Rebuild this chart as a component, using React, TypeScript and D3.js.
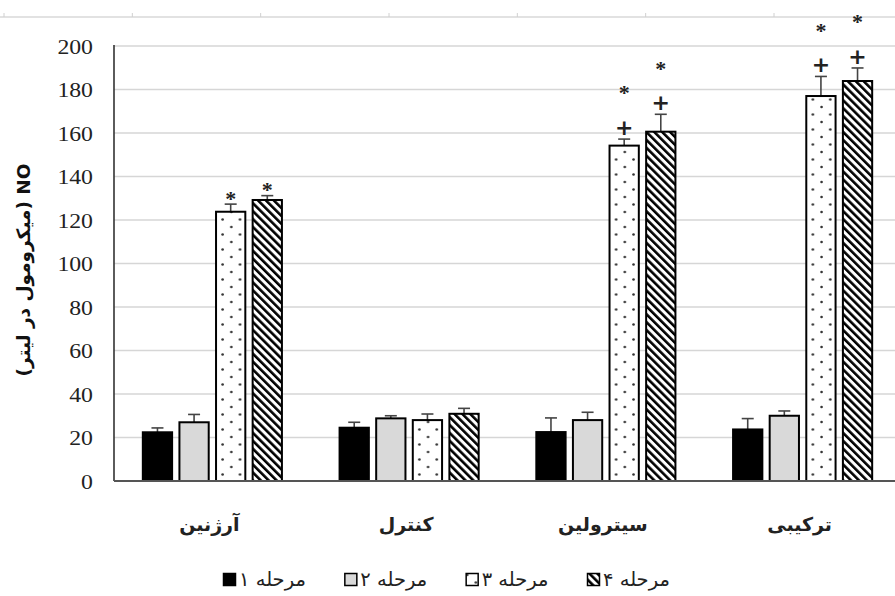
import React from 'react';
import * as d3 from 'd3';

const categories = ['آرژنین', 'کنترل', 'سیترولین', 'ترکیبی'];
const seriesNames = ['مرحله ۱', 'مرحله ۲', 'مرحله ۳', 'مرحله ۴'];
const stage1 = [22.4, 24.5, 22.5, 23.7];
const stage2 = [27, 28.8, 28, 30];
const stage3 = [123.8, 28, 154.2, 177];
const stage4 = [129.2, 30.9, 160.6, 183.9];
const err1 = [2, 2.5, 6.5, 5];
const err2 = [3.6, 1.2, 3.6, 2.2];
const err3 = [3.5, 2.8, 3, 9];
const err4 = [2, 2.5, 8, 6];
const plus3 = [false, false, true, true];
const plus4 = [false, false, true, true];
const star3 = [true, false, true, true];
const star4 = [true, false, true, true];
const yTicks = [0, 20, 40, 60, 80, 100, 120, 140, 160, 180, 200];

const values = [stage1, stage2, stage3, stage4];
const errors = [err1, err2, err3, err4];
const pluses = [null, null, plus3, plus4];
const stars = [null, null, star3, star4];
const fills = ['#000000', '#d9d9d9', 'url(#dots)', 'url(#hatch)'];

const W = 895;
const H = 596;
const left = 114;
const right = 901;
const top = 46;
const bottom = 481;

const AR = '"DejaVu Sans", "Noto Sans", sans-serif';
const SERIF = '"Liberation Serif", serif';

export default function App() {
  const x0 = d3.scaleBand<string>().domain(categories).range([left, right]).paddingInner(0.293).paddingOuter(0.1465);
  const x1 = d3.scaleBand<number>().domain([0, 1, 2, 3]).range([0, x0.bandwidth()]).paddingInner(0.2);
  const y = d3.scaleLinear().domain([0, 200]).range([bottom, top]);
  const legendX = d3.scaleLinear().domain([0, 3]).range([223, 587]);
  const topTickX = d3.scaleLinear().domain([0, 6]).range([4, 774]);

  return (
    <svg width={W} height={H} style={{ position: 'absolute', left: 0, top: 0, background: '#fff' }}>
      <defs>
        <pattern id="dots" width={17.4} height={15} patternUnits="userSpaceOnUse">
          <rect width={17.4} height={15} fill="#fff" />
          <circle cx={1.5} cy={2} r={1.3} fill="#333" />
          <circle cx={10.2} cy={9.5} r={1.3} fill="#333" />
        </pattern>
        <pattern id="hatch" width={5.6} height={5.6} patternUnits="userSpaceOnUse" patternTransform="rotate(-45)">
          <rect width={5.6} height={5.6} fill="#fff" />
          <rect width={2.6} height={5.6} fill="#000" />
        </pattern>
      </defs>

      {/* top border line */}
      <line x1={0} x2={W} y1={17} y2={17} stroke="#d9d9d9" strokeWidth={1.5} />
      {d3.range(7).map((i) => (
        <line key={i} x1={topTickX(i)} x2={topTickX(i)} y1={13} y2={17} stroke="#d0d0d0" strokeWidth={1} />
      ))}

      {/* gridlines */}
      {yTicks.filter((t) => t > 0).map((t) => (
        <line key={t} x1={left} x2={W} y1={y(t)} y2={y(t)} stroke="#d6d6d6" strokeWidth={1.6} />
      ))}

      {/* y tick labels */}
      {yTicks.map((t) => (
        <text key={t} x={93} y={y(t)} dy="0.35em" textAnchor="end" fontFamily={SERIF} fontSize={22} fill="#222"
          transform={`translate(93,0) scale(1.08,1) translate(-93,0)`}>
          {t}
        </text>
      ))}

      {/* y title */}
      <text
        transform={`translate(30, ${y(97)}) rotate(-90)`}
        textAnchor="middle"
        fontFamily={AR}
        fontWeight="bold"
        fontSize={18.5}
        fill="#111"
      >
        (میکرومول در لیتر) NO
      </text>

      {/* bars */}
      {categories.map((c, ci) => (
        <g key={c} transform={`translate(${x0(c)},0)`}>
          {values.map((vals, si) => {
            const bx = x1(si)!;
            const bw = x1.bandwidth();
            const v = vals[ci];
            const e = errors[si][ci];
            const cx = bx + bw / 2;
            const capY = y(v + e);
            const hasPlus = pluses[si] ? pluses[si]![ci] : false;
            const hasStar = stars[si] ? stars[si]![ci] : false;
            return (
              <g key={si}>
                <line x1={cx} x2={cx} y1={y(v)} y2={capY} stroke="#444" strokeWidth={1.6} />
                <line x1={cx - 6} x2={cx + 6} y1={capY} y2={capY} stroke="#444" strokeWidth={1.6} />
                <rect x={bx} y={y(v)} width={bw} height={y(0) - y(v)} fill={fills[si]} stroke="#000" strokeWidth={2} />
                {hasPlus && (
                  <text x={cx} y={capY - 12} dy="0.35em" textAnchor="middle" fontFamily={AR} fontWeight="bold" fontSize={22} fill="#222">
                    +
                  </text>
                )}
                {hasStar && (
                  <text
                    x={cx}
                    y={capY - (hasPlus ? 54 : 14)}
                    dy="0.7em"
                    textAnchor="middle"
                    fontFamily={SERIF}
                    fontWeight="bold"
                    fontSize={22}
                    fill="#222"
                  >
                    *
                  </text>
                )}
              </g>
            );
          })}
        </g>
      ))}

      {/* axes */}
      <line x1={left} x2={left} y1={top - 1} y2={bottom} stroke="#333" strokeWidth={1.6} />
      <line x1={left} x2={W} y1={bottom} y2={bottom} stroke="#555" strokeWidth={2} />

      {/* category labels */}
      {categories.map((c) => (
        <text key={c} x={x0(c)! + x0.bandwidth() / 2 - 3} y={531} textAnchor="middle" fontFamily={AR} fontWeight="bold" fontSize={19} fill="#222">
          {c}
        </text>
      ))}

      {/* legend */}
      {seriesNames.map((s, i) => (
        <g key={s} transform={`translate(${legendX(i)},573)`}>
          <rect x={0.5} y={0.5} width={12} height={12} fill={fills[i]} stroke="#000" strokeWidth={1.5} />
          <text x={16} y={12.5} fontFamily={AR} fontSize={19.5} fill="#222">
            {s}
          </text>
        </g>
      ))}
    </svg>
  );
}
